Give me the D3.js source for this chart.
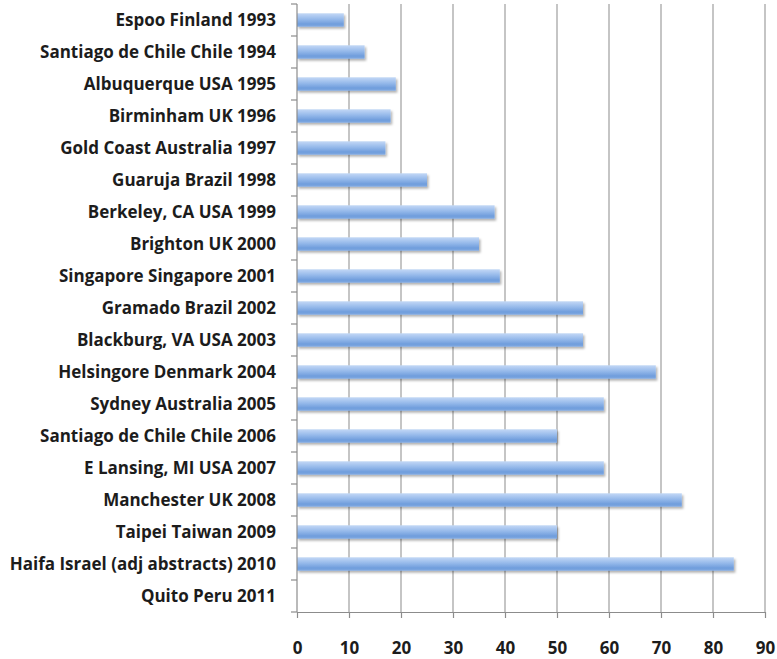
<!DOCTYPE html>
<html>
<head>
<meta charset="utf-8">
<script src="https://cdn.jsdelivr.net/npm/d3@7"></script>
<style>
  body { margin: 0; background: #fff; }
  svg { display: block; }
  .label { font-family: "Open Sans", "Noto Sans", sans-serif; font-weight: bold; fill: #1c1c1c; }
</style>
</head>
<body>
<div id="chart"></div>
<script>
// conference listing, top to bottom as in the original
const categories = [
  "Espoo Finland 1993",
  "Santiago de Chile Chile 1994",
  "Albuquerque USA 1995",
  "Birminham UK 1996",
  "Gold Coast Australia 1997",
  "Guaruja Brazil 1998",
  "Berkeley, CA USA 1999",
  "Brighton UK 2000",
  "Singapore Singapore 2001",
  "Gramado Brazil 2002",
  "Blackburg, VA USA 2003",
  "Helsingore Denmark 2004",
  "Sydney Australia 2005",
  "Santiago de Chile Chile 2006",
  "E Lansing, MI USA 2007",
  "Manchester UK 2008",
  "Taipei Taiwan 2009",
  "Haifa Israel (adj abstracts) 2010",
  "Quito Peru 2011"
];
const values = [9, 13, 19, 18, 17, 25, 38, 35, 39, 55, 55, 69, 59, 50, 59, 74, 50, 84, 0];
const xTicks = [0, 10, 20, 30, 40, 50, 60, 70, 80, 90];

const width = 777, height = 659;
const margin = { top: 4, right: 12, bottom: 47, left: 297 };

const svg = d3.select("#chart").append("svg")
  .attr("width", width)
  .attr("height", height);

const defs = svg.append("defs");
const grad = defs.append("linearGradient")
  .attr("id", "barGrad")
  .attr("x1", 0).attr("y1", 0).attr("x2", 0).attr("y2", 1);
grad.append("stop").attr("offset", "0%").attr("stop-color", "#c3d8f6");
grad.append("stop").attr("offset", "45%").attr("stop-color", "#94b8ea");
grad.append("stop").attr("offset", "80%").attr("stop-color", "#6f9ddc");
grad.append("stop").attr("offset", "100%").attr("stop-color", "#82aae2");

const shadow = defs.append("filter").attr("id", "shadow")
  .attr("x", "-5%").attr("y", "-30%").attr("width", "110%").attr("height", "180%");
shadow.append("feDropShadow")
  .attr("dx", 1.5).attr("dy", 2).attr("stdDeviation", 1.3)
  .attr("flood-color", "#000").attr("flood-opacity", 0.3);

const x = d3.scaleLinear()
  .domain([0, 90])
  .range([margin.left, width - margin.right]);

const y = d3.scaleBand()
  .domain(categories)
  .range([margin.top, height - margin.bottom])
  .padding(0);

// vertical grid lines
svg.append("g")
  .selectAll("line")
  .data(xTicks.slice(1))
  .join("line")
  .attr("x1", d => x(d)).attr("x2", d => x(d))
  .attr("y1", margin.top).attr("y2", height - margin.bottom)
  .attr("stroke", "#a6a6a6")
  .attr("stroke-width", 1.3);

// bars
const barH = y.bandwidth() * 0.42;
svg.append("g")
  .selectAll("rect")
  .data(values.map((v, i) => ({ name: categories[i], value: v })).filter(d => d.value > 0))
  .join("rect")
  .attr("x", x(0))
  .attr("y", d => y(d.name) + (y.bandwidth() - barH) / 2)
  .attr("width", d => x(d.value) - x(0))
  .attr("height", barH)
  .attr("fill", "url(#barGrad)")
  .attr("filter", "url(#shadow)");

// y axis: ticks at band edges, labels centred in bands
const yAxis = svg.append("g");
yAxis.append("line")
  .attr("x1", x(0)).attr("x2", x(0))
  .attr("y1", margin.top).attr("y2", height - margin.bottom)
  .attr("stroke", "#8c8c8c").attr("stroke-width", 1.2);
const edges = categories.map(c => y(c)).concat([height - margin.bottom]);
yAxis.selectAll(".ytick")
  .data(edges)
  .join("line")
  .attr("class", "ytick")
  .attr("x1", x(0) - 6).attr("x2", x(0))
  .attr("y1", d => d).attr("y2", d => d)
  .attr("stroke", "#8c8c8c").attr("stroke-width", 1.2);
const labels = yAxis.selectAll(".label")
  .data(categories)
  .join("text")
  .attr("class", "label")
  .attr("x", x(0) - 21)
  .attr("y", d => y(d) + y.bandwidth() / 2)
  .attr("dy", "0.36em")
  .attr("text-anchor", "end")
  .style("font-size", "16px")
  .text(d => d);

// fit the longest label to the width it takes in the original (~269px)
const longest = d3.max(labels.nodes(), n => n.getComputedTextLength());
const fontSize = Math.min(17, 16 * 269 / longest);
labels.style("font-size", fontSize + "px");

// x axis
const xAxis = svg.append("g")
  .attr("transform", `translate(0,${height - margin.bottom})`)
  .call(d3.axisBottom(x).tickValues(xTicks).tickSize(6).tickSizeOuter(0).tickPadding(24));
xAxis.select(".domain").attr("stroke", "#8c8c8c").attr("stroke-width", 1.2);
xAxis.selectAll(".tick line").attr("stroke", "#8c8c8c").attr("stroke-width", 1.2);
xAxis.selectAll(".tick text")
  .attr("class", "label")
  .style("font-size", fontSize + "px");
</script>
</body>
</html>
